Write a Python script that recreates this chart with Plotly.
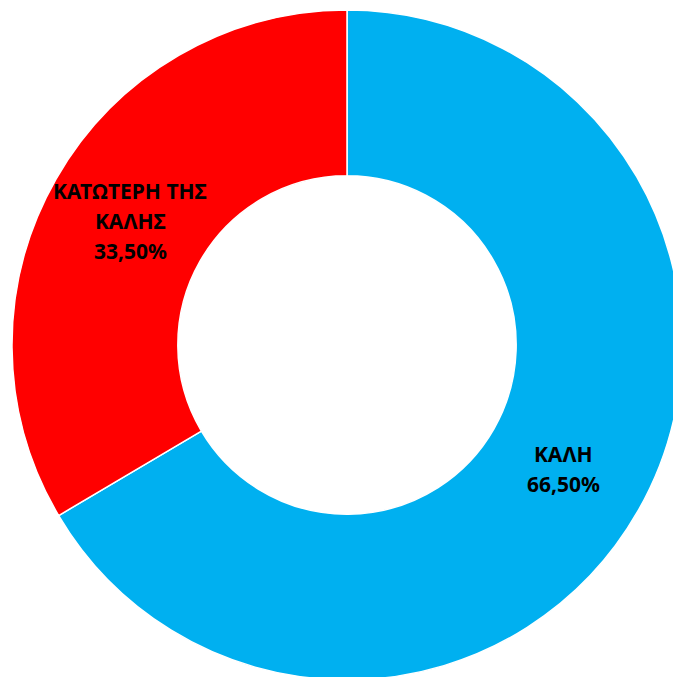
import math
import plotly.graph_objects as go

labels = ["ΚΑΛΗ", "ΚΑΤΩΤΕΡΗ ΤΗΣ ΚΑΛΗΣ"]
label_lines = [["ΚΑΛΗ"], ["ΚΑΤΩΤΕΡΗ ΤΗΣ", "ΚΑΛΗΣ"]]
values = [66.5, 33.5]
pct_text = ["66,50%", "33,50%"]
colors = ["#00B0F0", "#FF0000"]

fig = go.Figure(go.Pie(
    labels=labels,
    values=values,
    textinfo="none",
    hole=0.505,
    sort=False,
    direction="clockwise",
    rotation=0,
    marker=dict(colors=colors, line=dict(color="white", width=1.5)),
    showlegend=False,
    hoverinfo="none",
    domain=dict(x=[0, 1], y=[0, 1]),
))

# label placement derived from the slice mid-angles
total = sum(values)
cum = 0.0
label_r = 0.745
line_gap = 30
for lines, v, pct in zip(label_lines, values, pct_text):
    mid = (cum + v / 2) / total * 2 * math.pi
    cum += v
    cx = 0.5 + 0.5 * label_r * math.sin(mid)
    cy = 0.5 + 0.5 * label_r * math.cos(mid)
    all_lines = lines + [pct]
    n = len(all_lines)
    for i, t in enumerate(all_lines):
        shift = ((n - 1) / 2 - i) * line_gap
        fig.add_annotation(
            x=cx, y=cy, xref="paper", yref="paper",
            text=t, showarrow=False, yshift=shift,
            font=dict(family="Noto Sans", size=21, color="black", weight="bold"),
            xanchor="center", yanchor="middle",
        )

fig.update_layout(
    width=682, height=680,
    margin=dict(l=12, r=0, t=10, b=0),
    paper_bgcolor="white",
    plot_bgcolor="white",
)

fig.write_html(
    "out.html",
    config={"displayModeBar": False},
    post_script="document.body.style.margin='0';document.body.style.overflow='hidden';",
)
